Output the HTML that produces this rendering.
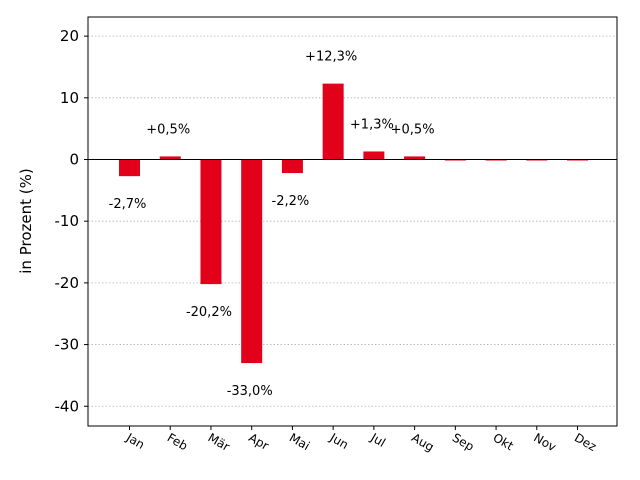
<!DOCTYPE html>
<html><head><meta charset="utf-8"><style>
body{margin:0;background:#fff}
svg{display:block;font-family:"DejaVu Sans","Liberation Sans",sans-serif}
</style></head><body>
<svg id="chart" width="640" height="480" viewBox="0 0 640 480">
<g id="grid"></g>
<g id="bars"></g>
<g id="labels"></g>
<g id="axes"></g>
<text transform="translate(31,221) rotate(-90)" text-anchor="middle" font-size="15">in Prozent (%)</text>
</svg>
<script>
const categories=["Jan","Feb","Mär","Apr","Mai","Jun","Jul","Aug","Sep","Okt","Nov","Dez"];
const values=[-2.7,0.5,-20.2,-33.0,-2.2,12.3,1.3,0.5,0,0,0,0];
const valueLabels=["-2,7%","+0,5%","-20,2%","-33,0%","-2,2%","+12,3%","+1,3%","+0,5%","","","",""];
const yTicks=[20,10,0,-10,-20,-30,-40];
const NS="http://www.w3.org/2000/svg";
const L=88,R=617,T=17,B=426,yMin=-43.2,yMax=23.1;
const y=v=>T+(yMax-v)/(yMax-yMin)*(B-T);
const x=i=>129.5+i*40.73;
function mk(tag,attrs,parent){const e=document.createElementNS(NS,tag);for(const k in attrs)e.setAttribute(k,attrs[k]);parent.appendChild(e);return e;}
const grid=document.getElementById('grid'),bars=document.getElementById('bars'),labels=document.getElementById('labels'),axes=document.getElementById('axes');
yTicks.forEach(t=>{
  const g=mk('line',{x1:L,x2:R,y1:y(t),y2:y(t),stroke:'#b0b0b0','stroke-width':0.8,'stroke-dasharray':'1.5,2'},grid);
  
  
  const tk=mk('line',{x1:L-4,x2:L,y1:y(t),y2:y(t),stroke:'#000'},axes);
  
  
  const tx=mk('text',{x:L-9,y:y(t)+5,'text-anchor':'end','font-size':15},axes);
  tx.textContent=t;
  
  
});
categories.forEach((c,i)=>{
  const v=values[i];
  const y0=y(0),yv=y(v);
  const r=mk('rect',{x:x(i)-10.5,y:Math.min(y0,yv),width:21,height:Math.max(Math.abs(yv-y0),1),fill:'#e2001a'},bars);
  
  
  if(valueLabels[i]){
    const ly=v>=0?yv-23:yv+32;
    const lt=mk('text',{x:x(i)-2,y:ly,'text-anchor':'middle','font-size':13},labels);
    lt.textContent=valueLabels[i];
    
    
  }
  const tk=mk('line',{x1:x(i),x2:x(i),y1:B,y2:B+4,stroke:'#000'},axes);
  
  
  const tx=mk('text',{transform:`translate(${x(i)-4},${B+14}) rotate(30)`,'font-size':12},axes);
  tx.textContent=c;
  
  
});
const zl=mk('line',{x1:L,x2:R,y1:y(0),y2:y(0),stroke:'#000','stroke-width':1},axes);


const fr=mk('rect',{x:L,y:T,width:R-L,height:B-T,fill:'none',stroke:'#000','stroke-width':1},axes);


</script>
</body></html>
